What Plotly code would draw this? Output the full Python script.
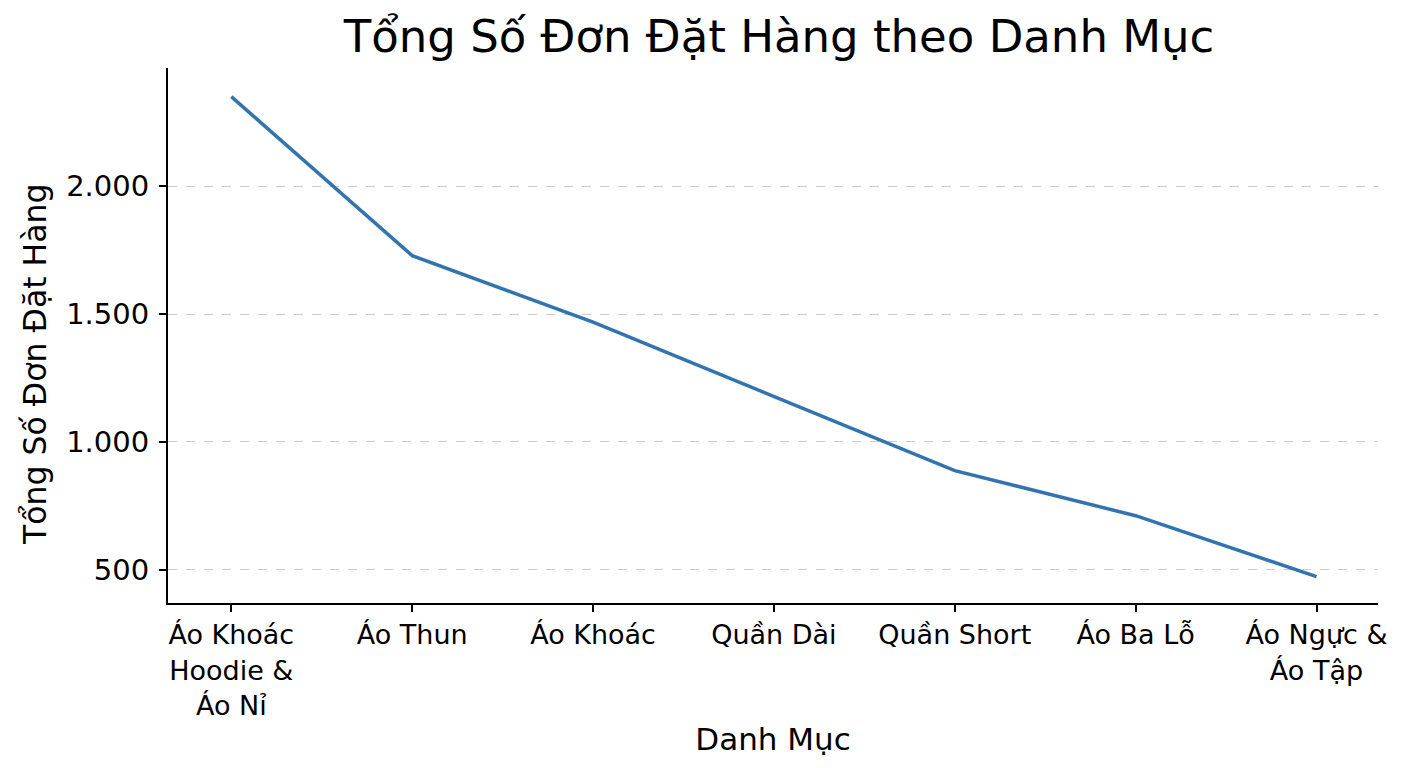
import plotly.graph_objects as go

# Tổng số đơn đặt hàng theo danh mục
danh_muc = [
    "Áo Khoác<br>Hoodie &<br>Áo Nỉ",
    "Áo Thun",
    "Áo Khoác",
    "Quần Dài",
    "Quần Short",
    "Áo Ba Lỗ",
    "Áo Ngực &<br>Áo Tập",
]
tong_don = [2349, 1728, 1468, 1177, 888, 712, 474]

y_ticks = [500, 1000, 1500, 2000]

fig = go.Figure()
fig.add_trace(go.Scatter(
    x=list(range(len(danh_muc))), y=tong_don,
    mode="lines", line=dict(color="#3274ae", width=3.5),
    hoverinfo="y",
))

font = "DejaVu Sans, sans-serif"
# the page adds an 8px body margin, so the margins are shifted to compensate
fig.update_layout(
    width=1408, height=768,
    paper_bgcolor="white", plot_bgcolor="white",
    font=dict(family=font, color="black"),
    separators=",.",
    showlegend=False,
    margin=dict(l=160, r=38, t=60, b=173),
    title=dict(text="Tổng Số Đơn Đặt Hàng theo Danh Mục", x=0.5476, xanchor="center",
               y=0.963, yanchor="middle", font=dict(size=45)),
)
fig.update_xaxes(
    range=[-0.35, 6.34],
    tickmode="array", tickvals=list(range(len(danh_muc))), ticktext=danh_muc,
    tickfont=dict(size=27),
    showline=True, linecolor="black", linewidth=2,
    ticks="outside", ticklen=7, tickwidth=1.5, tickcolor="black",
    showgrid=False, zeroline=False,
    title=dict(text="Danh Mục", font=dict(size=31), standoff=9),
)
fig.update_yaxes(
    range=[371, 2461],
    tickmode="array", tickvals=y_ticks, tickformat=",d",
    tickfont=dict(size=29), ticklabelstandoff=4,
    showline=True, linecolor="black", linewidth=2,
    ticks="outside", ticklen=7, tickwidth=1.5, tickcolor="black",
    showgrid=True, gridcolor="#cccccc", griddash="dash", gridwidth=1,
    zeroline=False,
)
# y label placed by hand: it sits a little below the plot's middle in the reference
fig.add_annotation(
    text="Tổng Số Đơn Đặt Hàng", textangle=-90,
    xref="paper", yref="paper", x=0, y=0.445, xshift=-133,
    xanchor="center", yanchor="middle", showarrow=False,
    font=dict(size=31.5),
)

fig.write_html("out.html")
